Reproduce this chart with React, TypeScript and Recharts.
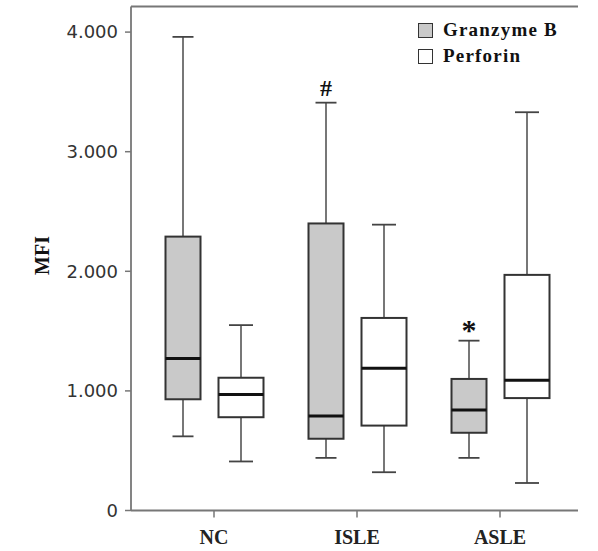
import React from 'react';
import { ComposedChart, Bar, XAxis, YAxis, Legend } from 'recharts';

const categories = ['NC', 'ISLE', 'ASLE'];
const seriesNames = ['Granzyme B', 'Perforin'];

// Granzyme B box statistics
const gzMin = [620, 440, 440];
const gzQ1 = [930, 600, 650];
const gzMed = [1270, 790, 840];
const gzQ3 = [2290, 2400, 1100];
const gzMax = [3960, 3410, 1420];

// Perforin box statistics
const pfMin = [410, 320, 230];
const pfQ1 = [780, 710, 940];
const pfMed = [970, 1190, 1090];
const pfQ3 = [1110, 1610, 1970];
const pfMax = [1550, 2390, 3330];

const marks = ['', '#', '*'];
const yTicks = [0, 1000, 2000, 3000, 4000];
const yMax = 4214;

const CHART_W = 598;
const CHART_H = 551;
const MARGIN = { top: 6.5, right: 20, bottom: 0, left: 0 };

const data = categories.map((cat, i) => ({
  cat,
  gz: { min: gzMin[i], q1: gzQ1[i], med: gzMed[i], q3: gzQ3[i], max: gzMax[i] },
  pf: { min: pfMin[i], q1: pfQ1[i], med: pfMed[i], q3: pfQ3[i], max: pfMax[i] },
  mark: marks[i],
}));

const GRAY = '#c9c9c9';

const makeBox = (key: 'gz' | 'pf', boxW: number, capW: number, fill: string) => (props: any) => {
  const { x, y, height, payload } = props;
  const s = payload[key];
  const top = Math.min(y, y + height);
  const bot = Math.max(y, y + height);
  const span = bot - top;
  const toY = (v: number) => top + (span * (s.max - v)) / (s.max - s.min);
  const cx = x + boxW / 2;
  const yMaxP = toY(s.max);
  const yMinP = toY(s.min);
  const yQ1 = toY(s.q1);
  const yQ3 = toY(s.q3);
  const yMed = toY(s.med);
  return (
    <g>
      <line x1={cx} x2={cx} y1={yMaxP} y2={yQ3} stroke="#555" strokeWidth={1.6} />
      <line x1={cx} x2={cx} y1={yQ1} y2={yMinP} stroke="#555" strokeWidth={1.6} />
      <line x1={cx - capW / 2} x2={cx + capW / 2} y1={yMaxP} y2={yMaxP} stroke="#444" strokeWidth={1.8} />
      <line x1={cx - capW / 2} x2={cx + capW / 2} y1={yMinP} y2={yMinP} stroke="#444" strokeWidth={1.8} />
      <rect x={x} y={yQ3} width={boxW} height={yQ1 - yQ3} fill={fill} stroke="#333" strokeWidth={2} />
      <line x1={x} x2={x + boxW} y1={yMed} y2={yMed} stroke="#111" strokeWidth={3} />
      {key === 'gz' && payload.mark ? (
        <text
          x={cx}
          y={yMaxP - 13}
          textAnchor="middle"
          fontFamily="Liberation Serif"
          fontWeight="bold"
          fontSize={payload.mark === '*' ? 30 : 24}
          fill="#111"
          dy={payload.mark === '*' ? 12 : 6}
        >
          {payload.mark}
        </text>
      ) : null}
    </g>
  );
};

const GzShape = makeBox('gz', 35, 21, GRAY);
const PfShape = makeBox('pf', 45, 24, '#ffffff');

const LegendContent = () => (
  <div style={{ fontFamily: 'Liberation Serif', fontWeight: 'bold', fontSize: 19, letterSpacing: 1.2, color: '#111' }}>
    {seriesNames.map((n, i) => (
      <div key={n} style={{ display: 'flex', alignItems: 'center', height: 26 }}>
        <div
          style={{
            width: 13,
            height: 13,
            border: '1.5px solid #333',
            background: i === 0 ? GRAY : '#fff',
            marginRight: 10,
          }}
        />
        <span>{n}</span>
      </div>
    ))}
  </div>
);

const fmt = (v: number) => (v === 0 ? '0' : (v / 1000).toFixed(0) + '.000');

// Y-axis title plus the top edge of the plot frame
const MfiLabel = (props: any) => {
  const vb = props.viewBox || {};
  const x = (vb.x || 0) + 42;
  const y = (vb.y || 0) + (vb.height || 0) / 2 - 3;
  const plotLeft = (vb.x || 0) + (vb.width || 0);
  const plotTop = vb.y || 0;
  const plotRight = CHART_W - MARGIN.right;
  return (
    <g>
      <line x1={plotLeft} x2={plotRight} y1={plotTop} y2={plotTop} stroke="#777" strokeWidth={1.8} />
      <text
        x={x}
        y={y}
        transform={`rotate(-90, ${x}, ${y})`}
        textAnchor="middle"
        dominantBaseline="central"
        fontFamily="Liberation Serif"
        fontWeight="bold"
        fontSize={20}
        fill="#111"
      >
        MFI
      </text>
    </g>
  );
};

export default function App() {
  return (
    <div style={{ position: 'absolute', left: 0, top: 0, background: '#fff' }}>
      <ComposedChart width={CHART_W} height={CHART_H} data={data} margin={MARGIN} barSize={45} barGap={8}>
        <XAxis
          dataKey="cat"
          padding={{ left: 11.5, right: 6.5 }}
          height={40.5}
          tickSize={7}
          tickMargin={12}
          axisLine={{ stroke: '#777', strokeWidth: 1.8 }}
          tickLine={{ stroke: '#777', strokeWidth: 1.5 }}
          tick={{ fontFamily: 'Liberation Serif', fontWeight: 'bold', fontSize: 20, fill: '#222' }}
          interval={0}
        />
        <YAxis
          type="number"
          domain={[0, yMax]}
          ticks={yTicks}
          interval={0}
          width={131}
          tickSize={6}
          tickMargin={7}
          tickFormatter={fmt}
          axisLine={{ stroke: '#777', strokeWidth: 1.8 }}
          tickLine={{ stroke: '#777', strokeWidth: 1.5 }}
          tick={{ fontFamily: 'DejaVu Sans', fontSize: 18, fill: '#333' }}
          label={<MfiLabel />}
        />
        <YAxis
          yAxisId="right"
          orientation="right"
          type="number"
          domain={[0, yMax]}
          width={0}
          tick={false}
          tickLine={false}
          axisLine={{ stroke: '#777', strokeWidth: 1.8 }}
        />
        <Legend
          layout="horizontal"
          verticalAlign="middle"
          align="center"
          content={<LegendContent />}
          wrapperStyle={{ position: 'absolute', left: 418, top: 17, width: 'auto', height: 'auto' }}
        />
        <Bar
          dataKey={(d: any) => [d.gz.min, d.gz.max]}
          name={seriesNames[0]}
          shape={GzShape}
          isAnimationActive={false}
        />
        <Bar
          dataKey={(d: any) => [d.pf.min, d.pf.max]}
          name={seriesNames[1]}
          shape={PfShape}
          isAnimationActive={false}
        />
      </ComposedChart>
    </div>
  );
}
